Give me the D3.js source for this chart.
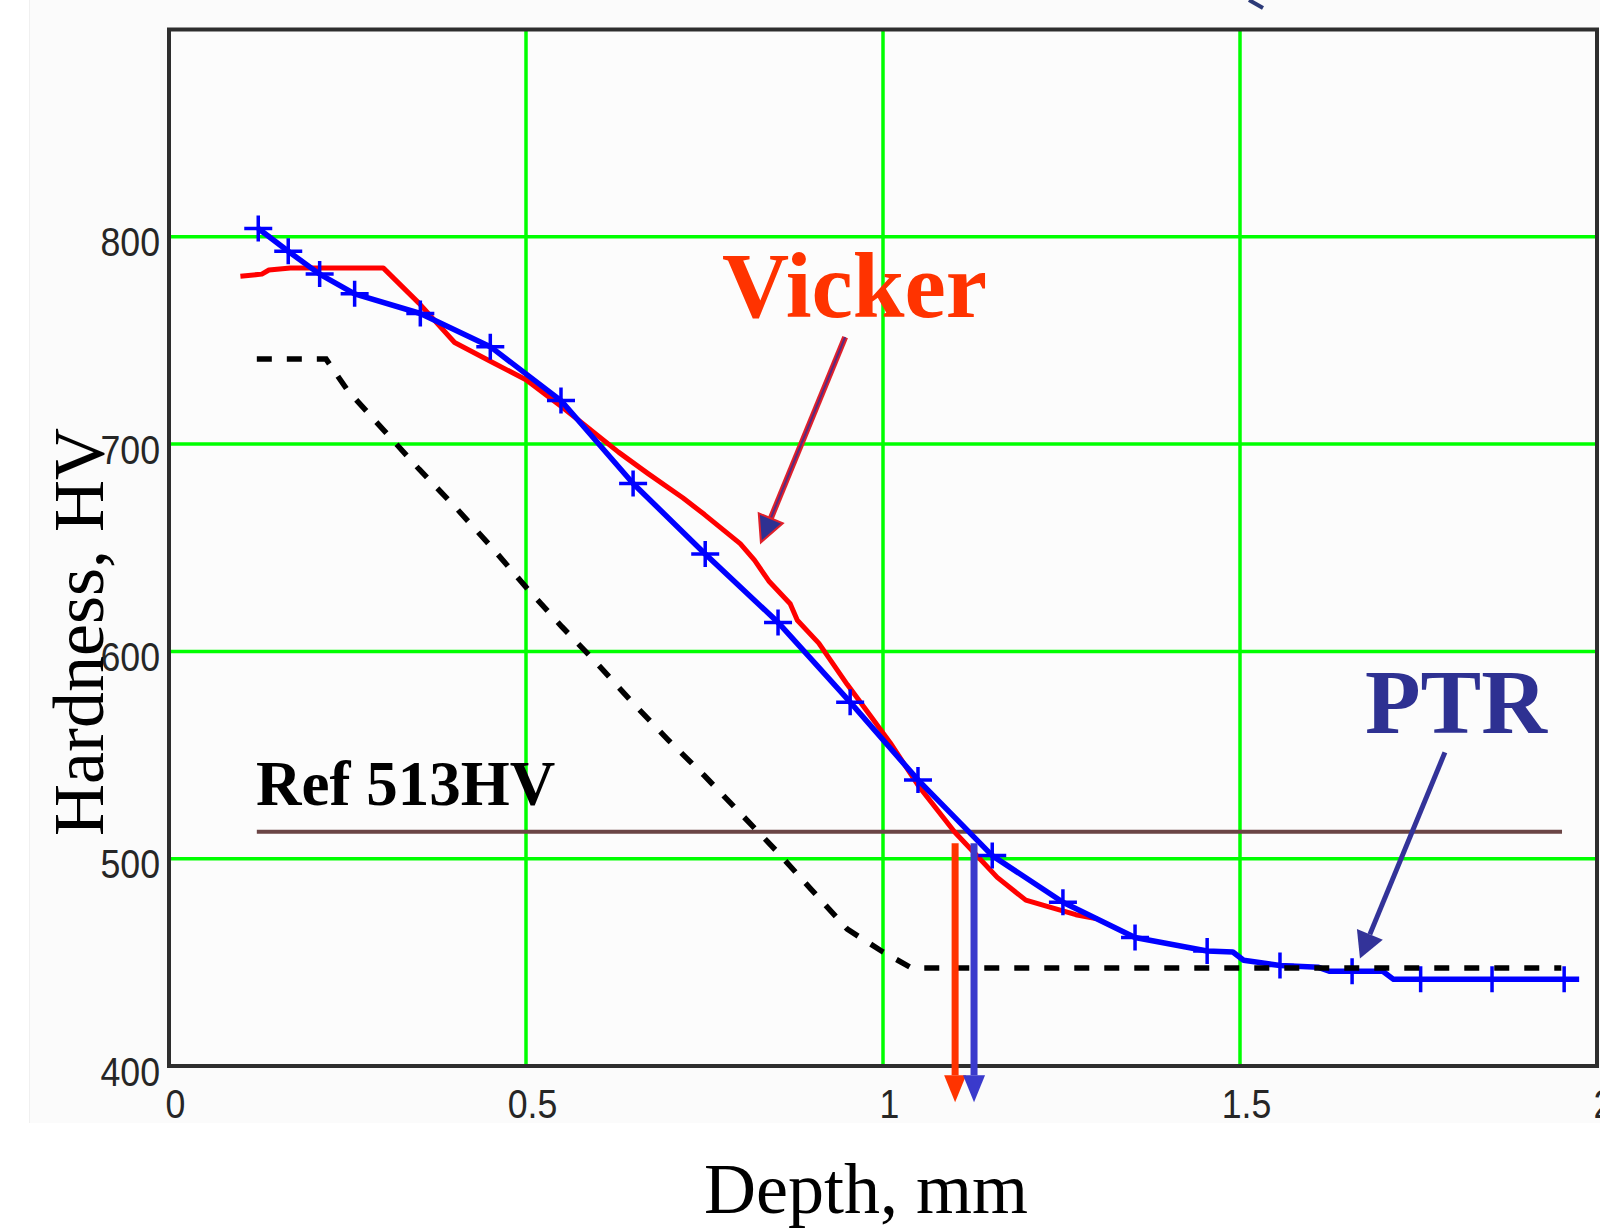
<!DOCTYPE html>
<html>
<head>
<meta charset="utf-8">
<script src="https://cdn.jsdelivr.net/npm/d3@7"></script>
<style>
  html, body { margin: 0; padding: 0; background: #ffffff; }
  svg { display: block; }
</style>
</head>
<body>
<svg id="chart" width="1600" height="1231"></svg>
<script>
// ---------------- data ----------------
const xTicks = [0, 0.5, 1, 1.5, 2];
const xTickLabels = ["0", "0.5", "1", "1.5", "2"];
const yTicks = [400, 500, 600, 700, 800];
const yTickLabels = ["400", "500", "600", "700", "800"];
const xGrid = [0.5, 1, 1.5];
const yGrid = [500, 600, 700, 800];

// Vicker (red) hardness profile
const vickerDepth = [0.10,0.13,0.14,0.17,0.30,0.35,0.40,0.45,0.50,0.55,0.63,0.67,0.72,0.75,0.80,0.82,0.84,0.87,0.88,0.91,0.93,0.95,0.98,1.01,1.05,1.10,1.13,1.16,1.20,1.23,1.27,1.30];
const vickerHV    = [781,782,784,785,785,768,749,740,731,718,696,686,674,666,652,644,634,623,615,604,594,584,570,556,535,513,502,491,480,477,473,471];

// PTR (blue, with + markers) hardness profile
const ptrDepth  = [0.125,0.167,0.211,0.26,0.352,0.45,0.549,0.65,0.751,0.853,0.954,1.049,1.153,1.252,1.353,1.454,1.49,1.505,1.556,1.61,1.625,1.657,1.70,1.715,1.753,1.853,1.954,1.975];
const ptrHV     = [804,793,782,772.5,763,747,721,681,647,614,575.5,538,501.5,479,462,455.5,455,451,448.5,447.6,445.7,445.7,445.7,441.8,441.8,441.8,441.8,441.8];
const ptrMarked = [1,1,1,1,1,1,1,1,1,1,1,1,1,1,1,1,0,0,1,0,0,1,0,0,1,1,1,0];

// black dashed profile
const baseDepth = [0.123,0.22,0.25,0.30,0.35,0.40,0.45,0.50,0.55,0.60,0.65,0.70,0.75,0.80,0.85,0.90,0.95,1.00,1.04,1.95];
const baseHV    = [741,741,726,707,688,670,651,631,612,594,575,557,540,522,504,485,466,455,447.3,447.3];

// reference hardness line
const refHV = 513;
const refSpan = [0.123, 1.951];
const refLabel = "Ref 513HV";

// case-depth read-outs (where each profile crosses 513 HV)
const crossDepth = [1.101, 1.1275];
const crossColor = ["#ff3300", "#3a3acc"];
const crossRange = [507.5, 382.5];

// annotation arrows (data units): [from, tip]
const vickerArrow = [[0.947, 751.6], [0.829, 652.6]];
const ptrArrow    = [[1.787, 551.3], [1.668, 451.9]];

// ---------------- layout ----------------
const svg = d3.select("#chart");
const x = d3.scaleLinear().domain([0, 2]).range([169, 1597]);
const y = d3.scaleLinear().domain([400, 900]).range([1066, 29.5]);

// faint page background of the original screenshot
svg.append("rect").attr("x", 29).attr("y", 0).attr("width", 1571).attr("height", 1123)
  .attr("fill", "#fbfbfb");
svg.append("line").attr("x1", 29.5).attr("x2", 29.5).attr("y1", 0).attr("y2", 1123)
  .attr("stroke", "#f0f0f0").attr("stroke-width", 1);

// plot background
svg.append("rect")
  .attr("x", x(0)).attr("y", y(900))
  .attr("width", x(2) - x(0)).attr("height", y(400) - y(900))
  .attr("fill", "#fcfcfc");

// grid
const grid = svg.append("g");
grid.selectAll(".gx").data(xGrid).enter().append("line")
  .attr("x1", d => x(d)).attr("x2", d => x(d))
  .attr("y1", y(400)).attr("y2", y(900))
  .attr("stroke", "#00ff00").attr("stroke-width", 3.5);
grid.selectAll(".gy").data(yGrid).enter().append("line")
  .attr("x1", x(0)).attr("x2", x(2))
  .attr("y1", d => y(d)).attr("y2", d => y(d))
  .attr("stroke", "#00ff00").attr("stroke-width", 3.5);

// frame
svg.append("rect")
  .attr("x", x(0)).attr("y", y(900))
  .attr("width", x(2) - x(0)).attr("height", y(400) - y(900))
  .attr("fill", "none").attr("stroke", "#2e2e2e").attr("stroke-width", 4);

// axes (labels only)
const tickFont = "'Liberation Sans', Arial, sans-serif";
const yAxis = svg.append("g").attr("transform", `translate(${x(0)},0)`)
  .call(d3.axisLeft(y).tickValues(yTicks).tickSize(0).tickPadding(9)
        .tickFormat((d, i) => yTickLabels[i]));
const xAxis = svg.append("g").attr("transform", `translate(0,${y(400)})`)
  .call(d3.axisBottom(x).tickValues(xTicks).tickSize(0)
        .tickFormat((d, i) => xTickLabels[i]));
[yAxis, xAxis].forEach(a => {
  a.select(".domain").remove();
  a.selectAll("text")
    .attr("font-family", tickFont).attr("font-size", 41)
    .attr("fill", "#262626");
});
yAxis.selectAll("text").attr("dy", 19);
xAxis.selectAll("text").attr("y", 52).attr("dy", 0).attr("x", 6);
// condensed look of the original tick font
[yAxis, xAxis].forEach(a => {
  a.selectAll("text").each(function () {
    const w = this.getComputedTextLength();
    d3.select(this).attr("textLength", w * 0.87).attr("lengthAdjust", "spacingAndGlyphs");
  });
});

// reference line
svg.append("line")
  .attr("x1", x(refSpan[0])).attr("x2", x(refSpan[1]))
  .attr("y1", y(refHV)).attr("y2", y(refHV))
  .attr("stroke", "#6b4545").attr("stroke-width", 4);

// curves
const line = d3.line().x(d => x(d[0])).y(d => y(d[1]));

svg.append("path")
  .datum(vickerDepth.map((d, i) => [d, vickerHV[i]]))
  .attr("d", line).attr("fill", "none")
  .attr("stroke", "#ff0000").attr("stroke-width", 5).attr("stroke-linejoin", "round");

const ptrPts = ptrDepth.map((d, i) => [d, ptrHV[i], ptrMarked[i]]);
svg.append("path")
  .datum(ptrPts)
  .attr("d", line).attr("fill", "none")
  .attr("stroke", "#0000ff").attr("stroke-width", 5.5).attr("stroke-linejoin", "round");
svg.append("g").selectAll("path").data(ptrPts.filter(p => p[2]))
  .enter().append("path")
  .attr("transform", d => `translate(${x(d[0])},${y(d[1])})`)
  .attr("d", "M-14,0H14M0,-13V13")
  .attr("stroke", "#0000ff").attr("stroke-width", 3.5).attr("fill", "none");

svg.append("path")
  .datum(baseDepth.map((d, i) => [d, baseHV[i]]))
  .attr("d", line).attr("fill", "none")
  .attr("stroke", "#000000").attr("stroke-width", 5.5)
  .attr("stroke-dasharray", "15,15");

// arrow helper
function arrow(x1, y1, x2, y2, color, width, headLen, headW, headFill, headStroke, inner) {
  const dx = x2 - x1, dy = y2 - y1, L = Math.hypot(dx, dy);
  const ux = dx / L, uy = dy / L;
  const bx = x2 - ux * headLen, by = y2 - uy * headLen;
  const g = svg.append("g");
  g.append("line").attr("x1", x1).attr("y1", y1).attr("x2", bx).attr("y2", by)
    .attr("stroke", color).attr("stroke-width", width);
  if (inner) {
    g.append("line").attr("x1", x1).attr("y1", y1).attr("x2", bx).attr("y2", by)
      .attr("stroke", inner).attr("stroke-width", width * 0.35);
  }
  const px = -uy * headW / 2, py = ux * headW / 2;
  g.append("path")
    .attr("d", `M${x2},${y2}L${bx + px},${by + py}L${bx - px},${by - py}Z`)
    .attr("fill", headFill).attr("stroke", headStroke || "none").attr("stroke-width", headStroke ? 2 : 0);
}

// vertical case-depth arrows
crossDepth.forEach((d, i) => {
  arrow(x(d), y(crossRange[0]), x(d), y(crossRange[1]), crossColor[i], 7, 27, 22, crossColor[i]);
});

// label arrows
arrow(x(vickerArrow[0][0]), y(vickerArrow[0][1]), x(vickerArrow[1][0]), y(vickerArrow[1][1]),
      "#e0202a", 6, 26, 26, "#2e3192", "#e0202a", "#5a2a80");
arrow(x(ptrArrow[0][0]), y(ptrArrow[0][1]), x(ptrArrow[1][0]), y(ptrArrow[1][1]),
      "#333399", 5, 26, 28, "#333399");

// fragment of an arrow cut off at the top edge of the original image
svg.append("line").attr("x1", 1249).attr("y1", 0).attr("x2", 1263).attr("y2", 8)
  .attr("stroke", "#2c3a78").attr("stroke-width", 4);

// texts
const serif = "'Liberation Serif', 'Times New Roman', serif";
svg.append("text")
  .attr("x", x(0.7745)).attr("y", y(761.2))
  .attr("font-family", serif).attr("font-weight", "bold").attr("font-size", 93)
  .attr("fill", "#ff3300").text("Vicker");
svg.append("text")
  .attr("x", x(1.675)).attr("y", y(560.6))
  .attr("font-family", serif).attr("font-weight", "bold").attr("font-size", 91)
  .attr("fill", "#2e3192").text("PTR");
svg.append("text")
  .attr("x", x(0.122)).attr("y", y(525.8))
  .attr("font-family", serif).attr("font-weight", "bold").attr("font-size", 63)
  .attr("fill", "#000000").text(refLabel);

svg.append("text")
  .attr("x", 866).attr("y", 1213)
  .attr("text-anchor", "middle")
  .attr("font-family", serif).attr("font-size", 72)
  .attr("fill", "#000000").text("Depth, mm");
svg.append("text")
  .attr("transform", "translate(103,632) rotate(-90)")
  .attr("text-anchor", "middle")
  .attr("font-family", serif).attr("font-size", 72)
  .attr("fill", "#000000").text("Hardness, HV");
</script>
</body>
</html>
